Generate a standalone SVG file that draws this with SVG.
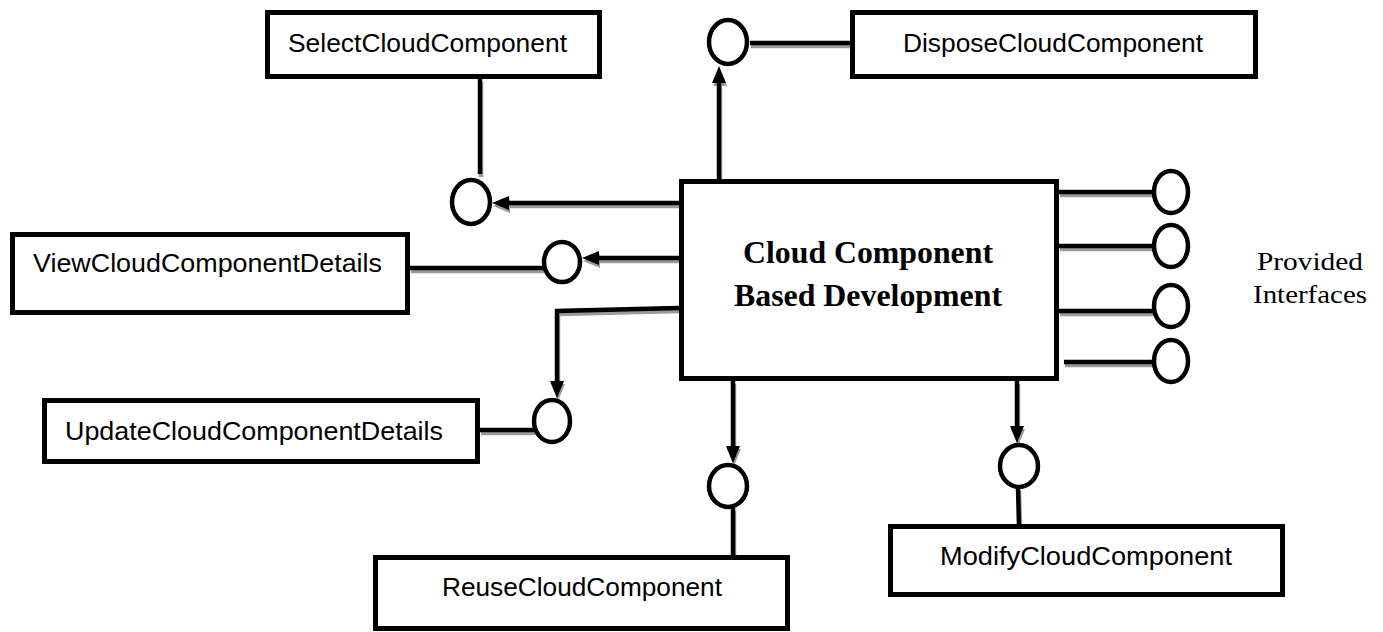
<svg xmlns="http://www.w3.org/2000/svg" width="1383" height="632" viewBox="0 0 1383 632">
<style>
  .box{fill:#fff;stroke:#000;stroke-width:5}
  .port{fill:#fff;stroke:#000;stroke-width:4.5}
  .w{fill:none;stroke:#000;stroke-width:4.5}
  .sh{fill:none;stroke:#9a9a9a;stroke-width:4.5}
  .a{marker-end:url(#arrow)}
  .as{marker-end:url(#arrowSh)}
  .lbl{font-family:"Liberation Sans",Arial,sans-serif;font-size:26px;fill:#000}
  .main{font-family:"Liberation Serif","Times New Roman",serif;font-size:31px;font-weight:bold;fill:#000}
  .note{font-family:"Liberation Serif","Times New Roman",serif;font-size:26px;fill:#000}
</style>
<defs>
  <marker id="arrow" markerUnits="userSpaceOnUse" markerWidth="18" markerHeight="16" refX="8" refY="8" orient="auto" viewBox="0 0 18 16">
    <path d="M0,1 L17,8 L0,15 z" fill="#000"/>
  </marker>
  <marker id="arrowSh" markerUnits="userSpaceOnUse" markerWidth="18" markerHeight="16" refX="8" refY="8" orient="auto" viewBox="0 0 18 16">
    <path d="M0,1 L17,8 L0,15 z" fill="#9a9a9a"/>
  </marker>
</defs>
<rect width="1383" height="632" fill="#fff"/>

<g id="connectors">
  <g id="shadows" transform="translate(1,3)">
    <path class="sh" d="M480,79 V174"/>
    <path class="sh as" d="M679,203 H501"/>
    <path class="sh as" d="M719,179 V75"/>
    <path class="sh" d="M750,43 H852"/>
    <path class="sh as" d="M679,258 H591"/>
    <path class="sh" d="M410,268 H543"/>
    <path class="sh as" d="M679,308 L557,311 V389"/>
    <path class="sh" d="M480,430 H534"/>
    <path class="sh as" d="M733,381 V454"/>
    <path class="sh" d="M733,508 V557"/>
    <path class="sh as" d="M1017,381 V434"/>
    <path class="sh" d="M1018,488 L1019,526"/>
    <path class="sh" d="M1059,192 H1154"/>
    <path class="sh" d="M1059,246 H1154"/>
    <path class="sh" d="M1059,311 H1154"/>
    <path class="sh" d="M1064,362 H1154"/>
  </g>
  <path id="c-select" class="w" d="M480,79 V174"/>
  <path id="c-main-select" class="w a" d="M679,203 H501"/>
  <path id="c-main-dispose" class="w a" d="M719,179 V75"/>
  <path id="c-dispose" class="w" d="M750,43 H852"/>
  <path id="c-main-view" class="w a" d="M679,258 H591"/>
  <path id="c-view" class="w" d="M410,268 H543"/>
  <path id="c-main-update" class="w a" d="M679,308 L557,311 V389"/>
  <path id="c-update" class="w" d="M480,430 H534"/>
  <path id="c-main-reuse" class="w a" d="M733,381 V454"/>
  <path id="c-reuse" class="w" d="M733,508 V557"/>
  <path id="c-main-modify" class="w a" d="M1017,381 V434"/>
  <path id="c-modify" class="w" d="M1018,488 L1019,526"/>
  <path id="c-p1" class="w" d="M1059,192 H1154"/>
  <path id="c-p2" class="w" d="M1059,246 H1154"/>
  <path id="c-p3" class="w" d="M1059,311 H1154"/>
  <path id="c-p4" class="w" d="M1064,362 H1154"/>
</g>

<g id="main">
  <rect class="box" x="681.5" y="181.5" width="375" height="197"/>
  <text class="main" x="743" y="263" textLength="250" lengthAdjust="spacingAndGlyphs">Cloud Component</text>
  <text class="main" x="734" y="306" textLength="268" lengthAdjust="spacingAndGlyphs">Based Development</text>
</g>

<g id="select">
  <rect class="box" x="267.5" y="12.5" width="332" height="64"/>
  <text class="lbl" x="288" y="52" textLength="279" lengthAdjust="spacingAndGlyphs">SelectCloudComponent</text>
</g>
<g id="dispose">
  <rect class="box" x="852.5" y="12.5" width="403" height="64"/>
  <text class="lbl" x="903" y="52" textLength="300" lengthAdjust="spacingAndGlyphs">DisposeCloudComponent</text>
</g>
<g id="view">
  <rect class="box" x="12.5" y="234.5" width="395" height="78"/>
  <text class="lbl" x="33" y="272" textLength="349" lengthAdjust="spacingAndGlyphs">ViewCloudComponentDetails</text>
</g>
<g id="update">
  <rect class="box" x="44.5" y="400.5" width="433" height="61"/>
  <text class="lbl" x="65" y="440" textLength="378" lengthAdjust="spacingAndGlyphs">UpdateCloudComponentDetails</text>
</g>
<g id="reuse">
  <rect class="box" x="375.5" y="557.5" width="412" height="71"/>
  <text class="lbl" x="442" y="596" textLength="280" lengthAdjust="spacingAndGlyphs">ReuseCloudComponent</text>
</g>
<g id="modify">
  <rect class="box" x="890.5" y="526.5" width="392" height="68"/>
  <text class="lbl" x="940" y="565" textLength="292" lengthAdjust="spacingAndGlyphs">ModifyCloudComponent</text>
</g>

<g id="port-select"><ellipse class="port" cx="471" cy="202" rx="19" ry="22"/></g>
<g id="port-dispose"><ellipse class="port" cx="728" cy="42" rx="19" ry="22"/></g>
<g id="port-view"><ellipse class="port" cx="562" cy="262" rx="18" ry="20"/></g>
<g id="port-update"><ellipse class="port" cx="552" cy="421" rx="18" ry="21"/></g>
<g id="port-reuse"><ellipse class="port" cx="728" cy="486" rx="19" ry="21"/></g>
<g id="port-modify"><ellipse class="port" cx="1019" cy="466" rx="19" ry="21"/></g>
<g id="port-p1"><ellipse class="port" cx="1171" cy="192" rx="17" ry="21"/></g>
<g id="port-p2"><ellipse class="port" cx="1171" cy="246" rx="17" ry="21"/></g>
<g id="port-p3"><ellipse class="port" cx="1171" cy="306" rx="17" ry="21"/></g>
<g id="port-p4"><ellipse class="port" cx="1171" cy="361" rx="17" ry="21"/></g>

<g id="provided-label">
  <text class="note" x="1257" y="270" textLength="106" lengthAdjust="spacingAndGlyphs">Provided</text>
  <text class="note" x="1253" y="303" textLength="114" lengthAdjust="spacingAndGlyphs">Interfaces</text>
</g>
</svg>
